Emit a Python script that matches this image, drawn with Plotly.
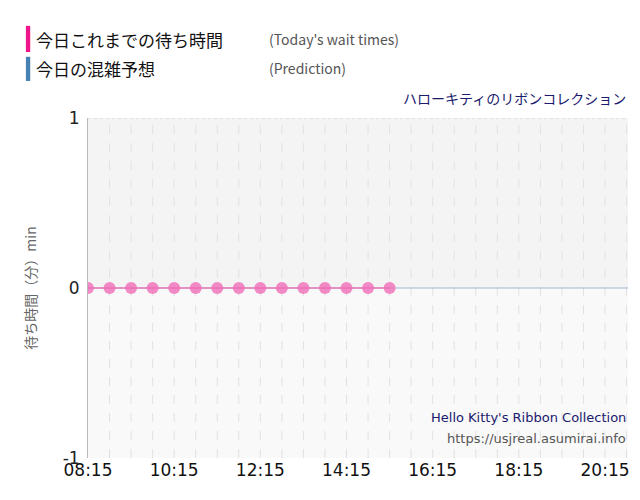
import pandas as pd
import plotly.graph_objects as go

# Today's wait times (minutes), every 30 min
wait_times = pd.date_range("2024-01-01 08:15", "2024-01-01 15:15", freq="30min")
wait_vals = [0] * len(wait_times)

# Prediction line
pred_times = pd.date_range("2024-01-01 08:15", "2024-01-01 20:45", freq="30min")
pred_vals = [0] * len(pred_times)

tick_times = pd.date_range("2024-01-01 08:15", "2024-01-01 20:15", freq="2h")
tick_labels = [t.strftime("%H:%M") for t in tick_times]
grid_times = pd.date_range("2024-01-01 08:45", "2024-01-01 20:45", freq="30min")

fig = go.Figure()
fig.add_trace(go.Scatter(x=list(pred_times) + [pd.Timestamp("2024-01-01 20:47")],
                         y=pred_vals + [0], mode="lines",
                         line=dict(color="#9fb7d3", width=1.2), hoverinfo="skip"))
fig.add_trace(go.Scatter(x=wait_times, y=wait_vals, mode="lines+markers",
                         line=dict(color="#e87bb8", width=1.5),
                         marker=dict(color="rgba(240,110,185,0.8)", size=12)))

shapes = [
    dict(type="rect", xref="paper", yref="y", x0=0, x1=1, y0=0, y1=1,
         fillcolor="#f4f4f4", line_width=0, layer="below"),
    dict(type="rect", xref="paper", yref="y", x0=0, x1=1, y0=-1, y1=0,
         fillcolor="#f9f9f9", line_width=0, layer="below"),
    dict(type="line", xref="paper", yref="y", x0=0, x1=1, y0=1, y1=1,
         line=dict(color="#cccccc", width=1, dash="dot")),
    dict(type="rect", xref="paper", yref="paper", x0=-0.115, x1=-0.107, y0=1.194, y1=1.271,
         fillcolor="#f0158a", line_width=0),
    dict(type="rect", xref="paper", yref="paper", x0=-0.115, x1=-0.107, y0=1.109, y1=1.18,
         fillcolor="#4682b4", line_width=0),
]
for g in grid_times:
    shapes.append(dict(type="line", xref="x", yref="paper", x0=g, x1=g, y0=0, y1=1,
                       line=dict(color="#e2e2e2", width=1, dash="dash"), layer="below"))

ann = [
    dict(text="今日これまでの待ち時間", x=-0.1, y=1.232, size=17, color="#111"),
    dict(text="(Today's wait times)", x=0.331, y=1.232, size=14, color="#555"),
    dict(text="今日の混雑予想", x=-0.1, y=1.146, size=17, color="#111"),
    dict(text="(Prediction)", x=0.331, y=1.146, size=14, color="#555"),
]
annotations = [dict(text=a["text"], xref="paper", yref="paper", x=a["x"], y=a["y"],
                    xanchor="left", yanchor="middle", showarrow=False,
                    font=dict(size=a["size"], color=a["color"])) for a in ann]
annotations += [
    dict(text="ハローキティのリボンコレクション", xref="paper", yref="paper", x=1, y=1.058,
         xanchor="right", yanchor="middle", showarrow=False, font=dict(size=14, color="#1a1a6e")),
    dict(text="Hello Kitty's Ribbon Collection", xref="paper", yref="paper", x=1, y=0.118,
         xanchor="right", yanchor="middle", showarrow=False,
         font=dict(family="DejaVu Sans", size=13, color="#1a1a6e")),
    dict(text="https://usjreal.asumirai.info", xref="paper", yref="paper", x=1, y=0.058,
         xanchor="right", yanchor="middle", showarrow=False,
         font=dict(family="DejaVu Sans", size=13, color="#555")),
]

fig.update_layout(
    width=640, height=500, margin=dict(l=80, r=20, t=110, b=50),
    paper_bgcolor="white", plot_bgcolor="white", showlegend=False,
    font=dict(family="Noto Sans CJK JP, sans-serif"),
    shapes=shapes, annotations=annotations,
    xaxis=dict(range=["2024-01-01 08:15", "2024-01-01 20:47"], tickvals=tick_times,
               ticktext=tick_labels, showgrid=False, zeroline=False, automargin=False,
               tickfont=dict(family="DejaVu Sans", size=17, color="#111"), ticks="",
               showline=False),
    yaxis=dict(range=[-1, 1], tickvals=[-1, 0, 1], ticktext=["-1", "0", "1"],
               showgrid=False, zeroline=False, automargin=False,
               tickfont=dict(family="DejaVu Sans", size=17, color="#222"), showline=True,
               linecolor="#bbbbbb", ticklabelstandoff=4,
               title=dict(text="待ち時間（分）min", font=dict(size=14, color="#666"), standoff=22)),
)
fig.write_html("out.html")
